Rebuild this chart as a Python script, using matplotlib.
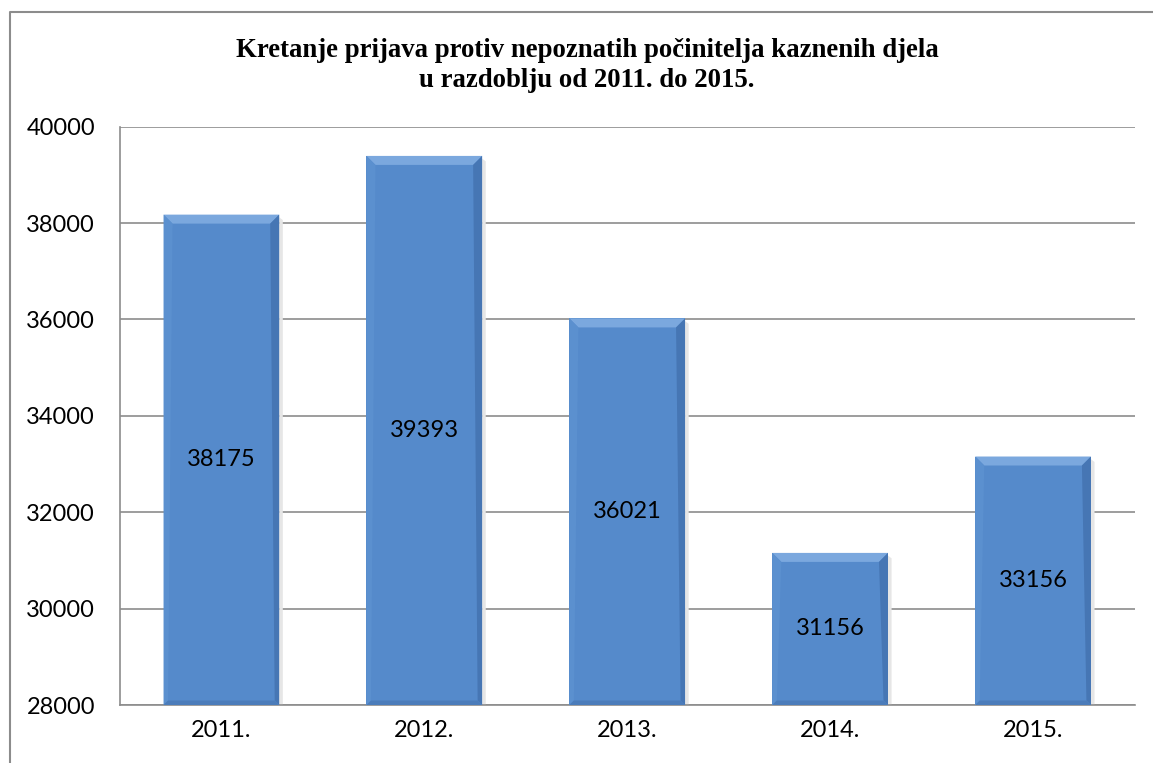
import matplotlib
matplotlib.use("Agg")
import matplotlib.pyplot as plt
from matplotlib.patches import Polygon
from matplotlib.lines import Line2D

# Data
years = ["2011.", "2012.", "2013.", "2014.", "2015."]
reports = [38175, 39393, 36021, 31156, 33156]
y_ticks = [28000, 30000, 32000, 34000, 36000, 38000, 40000]

title = ("Kretanje prijava protiv nepoznatih počinitelja kaznenih djela\n"
         "u razdoblju od 2011. do 2015.")

bar_color = "#558acb"
grid_color = "#8c8c8c"

fig = plt.figure(figsize=(11.53, 7.63), dpi=100)
ax = fig.add_axes([0.104, 0.076, 0.88, 0.758])

x = range(len(years))
bar_width = 0.57
ymin, ymax = 28000, 40000
bars = ax.bar(x, [v - ymin for v in reports], bottom=ymin, width=bar_width,
              color=bar_color, zorder=3)
ax.set_xlim(-0.5, len(years) - 0.5)
ax.set_ylim(ymin, ymax)

# bevel effect on each bar (size in pixels converted to data units)
ax_w_px = 0.88 * 1153
ax_h_px = 0.758 * 763
dx = 9 * len(years) / ax_w_px
dy = 9 * (ymax - ymin) / ax_h_px
for b in bars:
    x0, w = b.get_x(), b.get_width()
    y0, h = b.get_y(), b.get_height()
    x1, y1 = x0 + w, y0 + h
    # top light
    ax.add_patch(Polygon([(x0, y1), (x1, y1), (x1 - dx, y1 - dy), (x0 + dx, y1 - dy)],
                         closed=True, color="#7ba8de", lw=0, zorder=4))
    # right dark
    ax.add_patch(Polygon([(x1, y1), (x1, y0), (x1 - dx * 0.5, y0 + dy * 0.5),
                          (x1 - dx, y1 - dy)],
                         closed=True, color="#4676b4", lw=0, zorder=4))
    # left slightly lighter
    ax.add_patch(Polygon([(x0, y1), (x0, y0), (x0 + dx * 0.5, y0 + dy * 0.5),
                          (x0 + dx, y1 - dy)],
                         closed=True, color="#5b90cf", lw=0, zorder=4))
    # bottom dark
    ax.add_patch(Polygon([(x0, y0), (x1, y0), (x1 - dx * 0.5, y0 + dy * 0.5),
                          (x0 + dx * 0.5, y0 + dy * 0.5)],
                         closed=True, color="#4b7cba", lw=0, zorder=4))
    # soft shadow on the right
    ax.add_patch(Polygon([(x1, y1 - dy * 0.3), (x1 + dx * 0.4, y1 - dy * 0.6),
                          (x1 + dx * 0.4, y0), (x1, y0)],
                         closed=True, color="#e6e6e6", lw=0, zorder=2))

for b, v in zip(bars, reports):
    ax.text(b.get_x() + b.get_width() / 2, (ymin + v) / 2, str(v),
            ha="center", va="center", fontsize=17, family="Lato",
            color="black", zorder=5)

ax.set_xticks(list(x))
ax.set_xticklabels(years)
ax.set_yticks(y_ticks)
ax.tick_params(axis="both", length=0, labelsize=17)
ax.tick_params(axis="x", pad=11)
ax.tick_params(axis="y", pad=18)
for lab in ax.get_xticklabels() + ax.get_yticklabels():
    lab.set_family("Lato")

ax.yaxis.grid(True, color=grid_color, lw=1.2, zorder=1)
ax.set_axisbelow(True)
for side in ["top", "right"]:
    ax.spines[side].set_visible(False)
for side in ["left", "bottom"]:
    ax.spines[side].set_color(grid_color)
    ax.spines[side].set_linewidth(1.2)

fig.text(0.509, 0.914, title, ha="center", va="center", fontsize=19.3,
         fontweight="bold", family="Liberation Serif", linespacing=1.25)

# outer chart frame
fig.add_artist(Line2D([10 / 1153, 10 / 1153, 1.0], [0.0, 1 - 12 / 763, 1 - 12 / 763],
                      transform=fig.transFigure, color=grid_color, lw=1.5))

fig.savefig("out.png", dpi=100)
